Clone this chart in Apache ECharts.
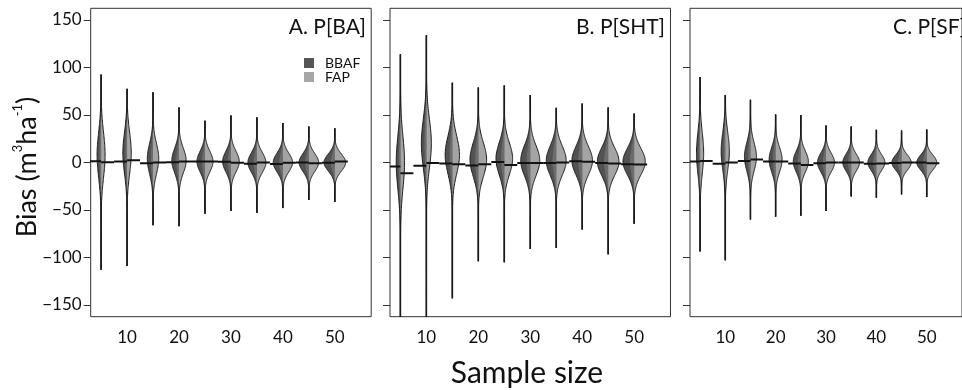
<!DOCTYPE html>
<html><head><meta charset="utf-8">
<script src="https://cdn.jsdelivr.net/npm/echarts@6/dist/echarts.min.js"></script>
<style>html,body{margin:0;padding:0;background:#fff}#c{width:962px;height:390px}</style>
</head><body><div id="c"></div>
<script>
// ---- data ----
const sampleSizes = [5, 10, 15, 20, 25, 30, 35, 40, 45, 50];
const xTickValues = [5, 10, 15, 20, 25, 30, 35, 40, 45, 50];
const xLabelValues = [10, 20, 30, 40, 50];
const yTickValues = [-150, -100, -50, 0, 50, 100, 150];
const panelTitles = ['A. P[BA]', 'B. P[SHT]', 'C. P[SF]'];
const legendNames = ['BBAF', 'FAP'];

// Panel A : P[BA]
const maxA = [92.5, 77.5, 74, 58, 44, 49.5, 47.5, 41.5, 38, 36];
const minA = [-113, -109, -66, -67, -54, -51, -53, -48, -39.5, -41.5];
const widthA = [0.77, 0.81, 1.1, 1.38, 1.54, 1.6, 1.73, 1.86, 1.88, 2.08];
const spreadA = [24, 22, 16, 13, 11, 11, 10.5, 10, 9.5, 9];
const peakA = [8, 10, 4, 2, 1, 1, 0, 0, 0, 0];
const meanBbafA = [1.4, 1.0, -0.7, 0.3, 1.0, 0.7, -1.4, -1.7, 0.0, -0.3];
const meanFapA = [0.3, 2.4, 0.0, 1.0, 1.0, -0.3, 0.0, -0.3, -0.7, 1.0];

// Panel B : P[SHT]
const maxB = [114, 134, 84, 79, 81, 71, 57.5, 62, 58, 51.5];
const minB = [-175, -175, -143, -104, -105, -91, -90, -70.5, -96.7, -64.5];
const widthB = [0.8, 0.96, 1.38, 1.6, 1.6, 1.83, 1.92, 1.98, 2.08, 2.15];
const spreadB = [28, 26, 20, 18, 17, 16, 15.5, 15, 14.5, 14];
const peakB = [0, 20, 8, 3, 4, 2, 2, 2, 1, 1];
const meanBbafB = [-4.2, -3.5, -1.0, -3.2, 0.4, -0.4, -0.4, 1.4, -0.4, -1.8];
const meanFapB = [-11.2, -0.4, -1.8, -1.8, -2.5, -0.4, 0.0, 0.7, -1.0, -2.1];

// Panel C : P[SF]
const maxC = [90, 71, 66, 50.5, 50, 39, 38, 34.4, 33.6, 34.7];
const minC = [-93.6, -103, -60, -57, -56, -51, -35.7, -37, -33.6, -36.4];
const widthC = [0.71, 0.81, 1.19, 1.29, 1.5, 1.69, 1.67, 1.69, 1.92, 1.98];
const spreadC = [22, 20, 15, 13, 11, 10, 9, 8.5, 8, 8];
const peakC = [10, 12, 6, 3, 1, 0, 0, 0, 0, 0];
const meanBbafC = [1.0, -1.4, 1.7, 1.0, -1.0, -0.7, 0.0, -1.4, -0.4, 0.0];
const meanFapC = [1.7, 0.0, 3.2, 1.0, -2.5, 0.0, 0.0, -1.0, 0.0, -0.7];

const panels = [
  {max: maxA, min: minA, width: widthA, spread: spreadA, peak: peakA, mB: meanBbafA, mF: meanFapA},
  {max: maxB, min: minB, width: widthB, spread: spreadB, peak: peakB, mB: meanBbafB, mF: meanFapB},
  {max: maxC, min: minC, width: widthC, spread: spreadC, peak: peakC, mB: meanBbafC, mF: meanFapC}
];

// ---- layout / style ----
const FONT = 'Lato';
const gridLefts = [90.7, 390, 690];
const gridW = 280.5;

function violinRender(params, api) {
  const n = api.value(0), lo = api.value(1), hi = api.value(2);
  const w = api.value(3), s = api.value(4), c = api.value(5);
  const steps = 160, left = [], right = [], inner = [];
  for (let k = 0; k <= steps; k++) {
    const y = hi - (hi - lo) * k / steps;
    const z = (y - c) / s;
    const hw = w * Math.exp(-0.5 * z * z);
    left.push(api.coord([n - hw, y]));
    inner.push(api.coord([n - hw * 0.38, y]));
    right.push(api.coord([n + hw, y]));
  }
  const cTop = api.coord([n, hi]), cBot = api.coord([n, lo]);
  return {
    type: 'group',
    children: [
      {type: 'line', shape: {x1: cTop[0], y1: cTop[1], x2: cBot[0], y2: cBot[1]},
        style: {stroke: '#1a1a1a', lineWidth: 1.6}},
      {type: 'polygon', shape: {points: left.concat([cBot, cTop])}, style: {fill: '#525252', stroke: null}},
      {type: 'polygon', shape: {points: inner.concat([cBot, cTop])}, style: {fill: '#6c6c6c', stroke: null}},
      {type: 'polygon', shape: {points: right.concat([cBot, cTop])}, style: {fill: '#a4a4a4', stroke: null}},
      {type: 'polygon', shape: {points: left.concat(right.slice().reverse())},
        style: {fill: null, stroke: '#1a1a1a', lineWidth: 1}}
    ]
  };
}

function meanRender(params, api) {
  const n = api.value(0), mb = api.value(1), mf = api.value(2);
  const a = api.coord([n - 2.5, mb]), b = api.coord([n, mb]);
  const c = api.coord([n, mf]), d = api.coord([n + 2.5, mf]);
  return {
    type: 'group',
    children: [
      {type: 'line', shape: {x1: a[0], y1: a[1], x2: b[0], y2: b[1]}, style: {stroke: '#111', lineWidth: 2}},
      {type: 'line', shape: {x1: c[0], y1: c[1], x2: d[0], y2: d[1]}, style: {stroke: '#111', lineWidth: 2}}
    ]
  };
}

const grids = [], xAxes = [], yAxes = [], series = [];
panels.forEach((p, i) => {
  grids.push({left: gridLefts[i], top: 8.3, width: gridW, height: 308.4, show: true,
    borderColor: '#333', borderWidth: 1, backgroundColor: 'transparent', containLabel: false});
  xAxes.push({gridIndex: i, type: 'value', min: 3, max: 57,
    splitLine: {show: false}, axisLine: {show: false},
    axisTick: {show: true, customValues: xTickValues, length: 7, lineStyle: {color: '#333', width: 1}},
    axisLabel: {customValues: xLabelValues, margin: 12, fontSize: 17, color: '#111', fontFamily: FONT}});
  yAxes.push({gridIndex: i, type: 'value', min: -162.3, max: 162.3,
    splitLine: {show: false}, axisLine: {show: false},
    axisTick: {show: true, customValues: yTickValues, length: 7, lineStyle: {color: '#333', width: 1}},
    axisLabel: {show: i === 0, customValues: yTickValues, margin: 9, fontSize: 17, color: '#111', fontFamily: FONT,
      formatter: v => (v < 0 ? '\u2212' + Math.abs(v) : String(v))}});
  const vData = sampleSizes.map((n, k) => [n, p.min[k], p.max[k], p.width[k], p.spread[k], p.peak[k]]);
  const mData = sampleSizes.map((n, k) => [n, p.mB[k], p.mF[k]]);
  series.push({type: 'custom', xAxisIndex: i, yAxisIndex: i, clip: true, renderItem: violinRender,
    data: vData, encode: {x: [0], y: [1, 2]}, silent: true, z: 2});
  series.push({type: 'custom', xAxisIndex: i, yAxisIndex: i, clip: true, renderItem: meanRender,
    data: mData, encode: {x: [0], y: [1, 2]}, silent: true, z: 3});
});

const titleRight = [366, 665, 966];
const graphics = [];
panelTitles.forEach((t, i) => {
  graphics.push({type: 'text', x: titleRight[i], y: 27, style: {text: t, fontSize: 21, fontFamily: FONT,
    fill: '#111', align: 'right', verticalAlign: 'middle'}});
});
graphics.push({type: 'rect', shape: {x: 304, y: 58, width: 10, height: 10}, style: {fill: '#555'}});
graphics.push({type: 'rect', shape: {x: 304, y: 72, width: 10, height: 10}, style: {fill: '#a6a6a6'}});
graphics.push({type: 'text', x: 325, y: 63, style: {text: legendNames[0], fontSize: 14, fontFamily: FONT, fill: '#111', verticalAlign: 'middle'}});
graphics.push({type: 'text', x: 325, y: 77, style: {text: legendNames[1], fontSize: 14, fontFamily: FONT, fill: '#111', verticalAlign: 'middle'}});
graphics.push({type: 'text', x: 527, y: 373, style: {text: 'Sample size', fontSize: 30, fontFamily: FONT, fill: '#111', align: 'center', verticalAlign: 'middle'}});
graphics.push({type: 'text', x: 27, y: 167, rotation: Math.PI / 2, style: {
  text: 'Bias (m{sup|3}ha{sup|-1})', fontSize: 27, fontFamily: FONT, fill: '#111', align: 'center', verticalAlign: 'middle',
  lineHeight: 32,
  rich: {sup: {fontSize: 13, fontFamily: FONT, fill: '#111', verticalAlign: 'top', lineHeight: 32}}}});

const chart = echarts.init(document.getElementById('c'), null, {renderer: 'canvas'});
chart.setOption({animation: false, backgroundColor: '#fff', grid: grids, xAxis: xAxes, yAxis: yAxes,
  series: series, graphic: graphics});
</script></body></html>
